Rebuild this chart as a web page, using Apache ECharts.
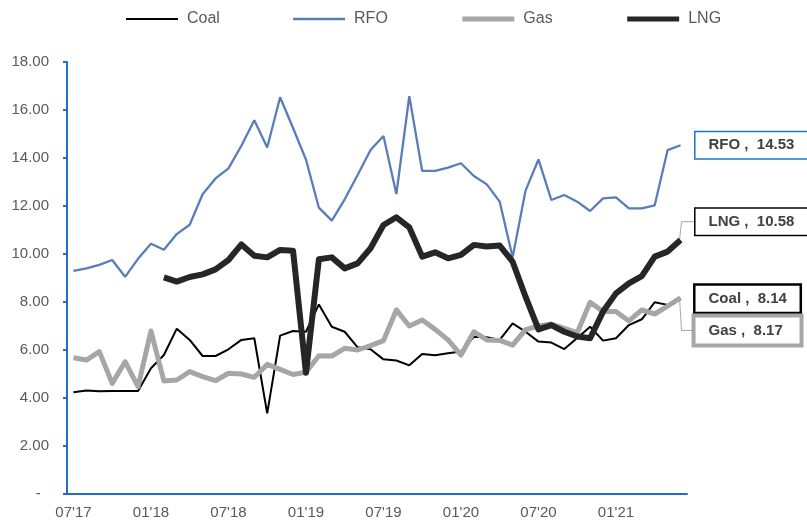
<!DOCTYPE html>
<html>
<head>
<meta charset="utf-8">
<title>Coal / RFO / Gas / LNG</title>
<script src="https://cdn.jsdelivr.net/npm/echarts@6/dist/echarts.min.js"></script>
<style>
  html, body { margin: 0; padding: 0; background: #fff; }
  #main { width: 807px; height: 521px; }
</style>
</head>
<body>
<div id="main"></div>
<script>
// month labels, 07'17 .. 06'21
var months = [
  "07'17", "08'17", "09'17", "10'17", "11'17", "12'17",
  "01'18", "02'18", "03'18", "04'18", "05'18", "06'18",
  "07'18", "08'18", "09'18", "10'18", "11'18", "12'18",
  "01'19", "02'19", "03'19", "04'19", "05'19", "06'19",
  "07'19", "08'19", "09'19", "10'19", "11'19", "12'19",
  "01'20", "02'20", "03'20", "04'20", "05'20", "06'20",
  "07'20", "08'20", "09'20", "10'20", "11'20", "12'20",
  "01'21", "02'21", "03'21", "04'21", "05'21", "06'21"
];

var coal = [4.24, 4.31, 4.28, 4.29, 4.29, 4.29, 5.24, 5.79, 6.89, 6.42, 5.75, 5.75,
  6.03, 6.42, 6.49, 3.36, 6.60, 6.79, 6.76, 7.90, 6.97, 6.76, 6.11, 6.03,
  5.61, 5.56, 5.36, 5.83, 5.78, 5.86, 5.94, 6.55, 6.53, 6.42, 7.11, 6.76,
  6.35, 6.31, 6.04, 6.50, 6.97, 6.39, 6.49, 7.04, 7.28, 7.99, 7.88, 8.14];

var rfo = [9.30, 9.40, 9.55, 9.75, 9.05, 9.80, 10.43, 10.18, 10.83, 11.22, 12.49, 13.15,
  13.57, 14.51, 15.57, 14.44, 16.53, 15.25, 13.94, 11.93, 11.39, 12.28, 13.29, 14.33,
  14.92, 12.50, 16.58, 13.46, 13.46, 13.60, 13.78, 13.25, 12.90, 12.18, 9.86, 12.64,
  13.94, 12.25, 12.46, 12.18, 11.79, 12.32, 12.36, 11.90, 11.90, 12.03, 14.33, 14.53];

var gas = [5.68, 5.58, 5.93, 4.61, 5.51, 4.47, 6.79, 4.71, 4.75, 5.10, 4.89, 4.72,
  5.03, 5.00, 4.86, 5.40, 5.19, 4.98, 5.07, 5.76, 5.75, 6.07, 6.00, 6.18,
  6.39, 7.67, 7.00, 7.25, 6.86, 6.42, 5.79, 6.76, 6.42, 6.40, 6.20, 6.85,
  7.00, 7.08, 6.90, 6.72, 7.99, 7.60, 7.60, 7.21, 7.67, 7.50, 7.83, 8.17];

var lng = [null, null, null, null, null, null, null, 9.03, 8.85, 9.04, 9.15, 9.36,
  9.75, 10.40, 9.93, 9.86, 10.17, 10.14, 5.05, 9.78, 9.86, 9.40, 9.61, 10.24,
  11.21, 11.53, 11.11, 9.89, 10.07, 9.82, 9.96, 10.38, 10.31, 10.35, 9.68, 8.22,
  6.86, 7.04, 6.76, 6.56, 6.49, 7.60, 8.36, 8.78, 9.08, 9.89, 10.10, 10.58];

var yTicks = [0, 2, 4, 6, 8, 10, 12, 14, 16, 18];

var font = "'Liberation Sans', Arial, sans-serif";
var axisBlue = '#1f6fc4';
var labelGap = 15;

// end label box: border colour / width, vertical shift, box width
function endLabel(border, bw, dy, w) {
  return {
    show: true,
    distance: labelGap,
    offset: [0, dy],
    formatter: function (p) {
      return p.seriesName + ' ,  ' + Number(p.value).toFixed(2);
    },
    color: '#404040',
    fontFamily: font,
    fontSize: 15,
    fontWeight: 'bold',
    lineHeight: 18,
    backgroundColor: '#fff',
    borderColor: border,
    borderWidth: bw,
    padding: [4, 0, 4, 13],
    width: w,
    align: 'left'
  };
}

var chart = echarts.init(document.getElementById('main'));

var option = {
  animation: false,
  legend: {
    left: 125,
    top: 11,
    padding: 0,
    itemWidth: 52,
    itemHeight: 14,
    itemGap: 72,
    itemStyle: { opacity: 0 },
    textStyle: { color: '#595959', fontSize: 16, fontFamily: font, padding: [0, 0, 0, 4] },
    data: [
      { name: 'Coal', lineStyle: { width: 2 } },
      { name: 'RFO', lineStyle: { width: 2.3 } },
      { name: 'Gas', lineStyle: { width: 5 } },
      { name: 'LNG', lineStyle: { width: 5 } }
    ]
  },
  grid: { left: 67, right: 120, top: 62, bottom: 27 },
  xAxis: {
    type: 'category',
    data: months,
    boundaryGap: true,
    axisLine: { lineStyle: { color: axisBlue, width: 2 } },
    axisTick: { show: false },
    axisLabel: { interval: 5, color: '#595959', fontSize: 15, fontFamily: font, margin: 11 },
    splitLine: { show: false }
  },
  yAxis: {
    type: 'value',
    min: yTicks[0],
    max: yTicks[yTicks.length - 1],
    interval: 2,
    axisLine: { show: true, lineStyle: { color: axisBlue, width: 2 } },
    axisTick: { show: true, length: 4, lineStyle: { color: axisBlue, width: 2 } },
    axisLabel: {
      color: '#595959', fontSize: 15, fontFamily: font, margin: 18,
      formatter: function (v) { return v === 0 ? '-  ' : v.toFixed(2); }
    },
    splitLine: { show: false }
  },
  series: [
    {
      name: 'Coal', type: 'line', data: coal, symbol: 'none',
      lineStyle: { color: '#000', width: 2 }, itemStyle: { color: '#000' },
      endLabel: endLabel('#000', 2.5, 0, 91)
    },
    {
      name: 'RFO', type: 'line', data: rfo, symbol: 'none',
      lineStyle: { color: '#5a7db9', width: 2.3 }, itemStyle: { color: '#5a7db9' },
      endLabel: endLabel('#1a75c9', 1.5, 0, 110)
    },
    {
      name: 'Gas', type: 'line', data: gas, symbol: 'none',
      lineStyle: { color: '#a6a6a6', width: 5, join: 'round' }, itemStyle: { color: '#a6a6a6' },
      endLabel: endLabel('#a6a6a6', 4, 32.6, 91)
    },
    {
      name: 'LNG', type: 'line', data: lng, symbol: 'none', connectNulls: false,
      lineStyle: { color: '#262626', width: 6, join: 'round' }, itemStyle: { color: '#262626' },
      endLabel: endLabel('#000', 1.5, -18.4, 110)
    }
  ]
};

chart.setOption(option);

// leader lines from the line ends to the shifted boxes
function leader(values, dy) {
  var i = values.length - 1;
  var p = chart.convertToPixel({ gridIndex: 0 }, [i, values[i]]);
  return {
    type: 'polyline',
    silent: true,
    z: 1,
    shape: { points: [[p[0] - 1, p[1]], [p[0] + 1, p[1] + dy], [p[0] + labelGap, p[1] + dy]] },
    style: { stroke: '#a6a6a6', lineWidth: 1, fill: null }
  };
}

chart.setOption({
  graphic: [leader(lng, -18.4), leader(gas, 32.6)]
});
</script>
</body>
</html>
